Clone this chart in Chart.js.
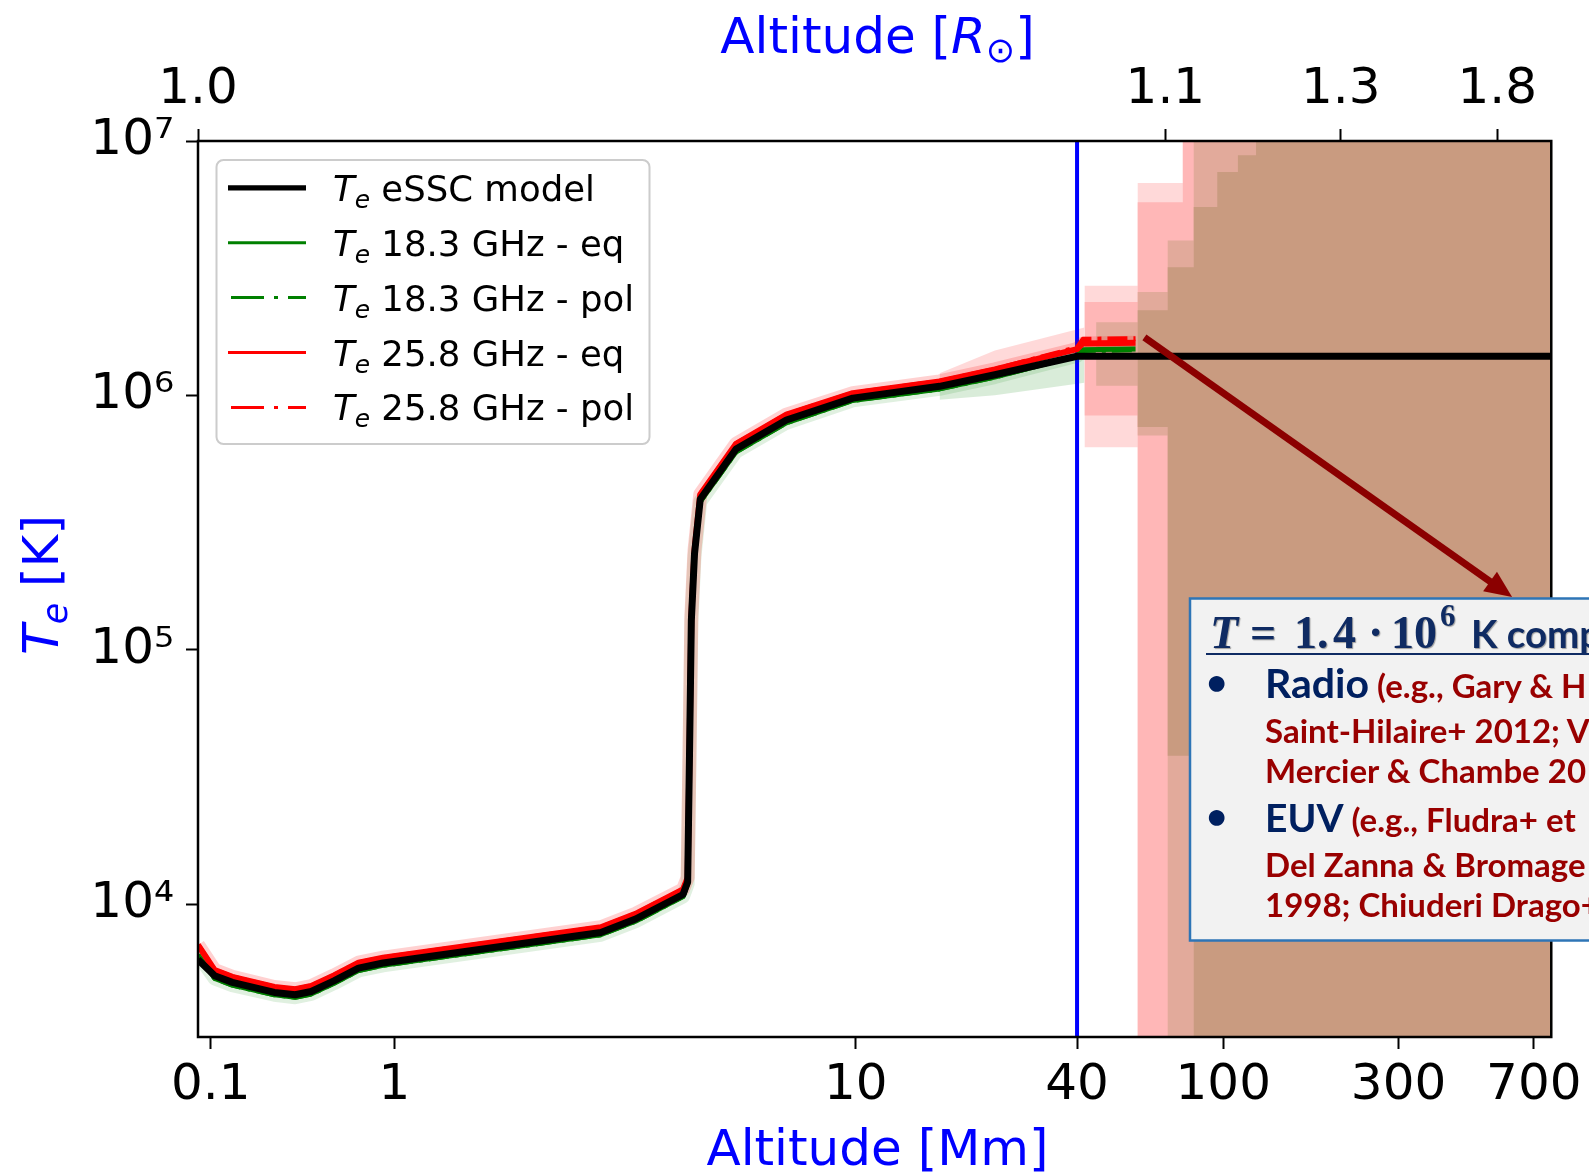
<!DOCTYPE html>
<html>
<head>
<meta charset="utf-8">
<script src="https://cdn.jsdelivr.net/npm/chart.js@4.4.1/dist/chart.umd.min.js"></script>
<style>
html,body{margin:0;padding:0;background:#fff;overflow:hidden;}
#wrap{position:relative;width:1589px;height:1175px;overflow:hidden;}
#c{position:absolute;left:0;top:0;}
#ov{position:absolute;left:0;top:0;pointer-events:none;}
</style>
</head>
<body>
<div id="wrap">
<canvas id="c" width="1589" height="1175"></canvas>
<svg id="ov" width="1589" height="1175" xmlns="http://www.w3.org/2000/svg">
  <!-- axis titles -->
  <text x="877.5" y="53" text-anchor="middle" font-family="DejaVu Sans" font-size="50" fill="#0000FF">Altitude [<tspan font-style="italic">R</tspan><tspan font-size="35" baseline-shift="-9">⊙</tspan>]</text>
  <text x="877.5" y="1165" text-anchor="middle" font-family="DejaVu Sans" font-size="50" fill="#0000FF">Altitude [Mm]</text>
  <text transform="translate(58,585) rotate(-90)" text-anchor="middle" font-family="DejaVu Sans" font-size="50" fill="#0000FF"><tspan font-style="italic">T</tspan><tspan font-style="italic" font-size="35" baseline-shift="-9">e</tspan> [K]</text>
  <!-- legend -->
  <g id="legend"></g>
  <!-- annotation box -->
  <g id="note">
    <rect x="1190" y="598.5" width="560" height="342" fill="#F2F2F2" stroke="#2E75B6" stroke-width="2.5"/>
    <text y="648" font-weight="bold" fill="#0F2B63" font-size="46" style="text-shadow:1px 1px 1px rgba(0,0,0,0.35)"><tspan x="1210" font-family="Liberation Serif" font-style="italic">T</tspan><tspan x="1250" font-family="Liberation Serif">=</tspan><tspan x="1294" font-family="Liberation Serif">1.</tspan><tspan x="1333" font-family="Liberation Serif">4</tspan><tspan x="1368" font-family="Liberation Serif">·</tspan><tspan x="1391" font-family="Liberation Serif">10</tspan><tspan x="1440" y="626" font-family="Liberation Serif" font-size="31">6</tspan><tspan x="1471" y="648" font-family="Lato" font-size="38.5">K comp</tspan></text>
    <line x1="1206" y1="654" x2="1600" y2="654" stroke="#0F2B63" stroke-width="2"/>
    <text x="1216.7" y="695" text-anchor="middle" font-family="Lato" font-size="36" font-weight="bold" fill="#002060">•</text>
    <text y="698" font-family="Lato" font-weight="bold"><tspan x="1265" font-size="41" fill="#002060">Radio</tspan><tspan font-size="33" fill="#990000"> (e.g., Gary &amp; H</tspan></text>
    <text x="1265" y="743" font-family="Lato" font-weight="bold" font-size="33" fill="#990000">Saint-Hilaire+ 2012; V</text>
    <text x="1265" y="783" font-family="Lato" font-weight="bold" font-size="33" fill="#990000">Mercier &amp; Chambe 20</text>
    <text x="1216.7" y="829" text-anchor="middle" font-family="Lato" font-size="36" font-weight="bold" fill="#002060">•</text>
    <text y="832" font-family="Lato" font-weight="bold"><tspan x="1265" font-size="39" fill="#002060">EUV</tspan><tspan font-size="33" fill="#990000"> (e.g., Fludra+ et</tspan></text>
    <text x="1265" y="877" font-family="Lato" font-weight="bold" font-size="33" fill="#990000">Del Zanna &amp; Bromage</text>
    <text x="1265" y="917" font-family="Lato" font-weight="bold" font-size="33" fill="#990000">1998; Chiuderi Drago+</text>
  </g>
</svg>
</div>
<script>
// ---------------- data (altitude in Mm, temperature in K) ----------------
const altModel = [0.0852, 0.105, 0.131, 0.222, 0.288, 0.352, 0.468, 0.637, 0.866, 2.80, 3.33, 4.22, 4.32, 4.36, 4.40, 4.47, 4.60, 5.50, 7.07, 9.85, 16.9, 23.9, 40.0, 800];
const teModel  = [6050, 5220, 4920, 4490, 4400, 4530, 4990, 5600, 5860, 7730, 8730, 10900, 12200, 38900, 130000, 238000, 390000, 615000, 800000, 975000, 1085000, 1205000, 1425000, 1425000];

const altRadio = [0.0852, 0.105, 0.131, 0.222, 0.288, 0.352, 0.468, 0.637, 0.866, 2.80, 3.33, 4.22, 4.32, 4.36, 4.40, 4.47, 4.60, 5.50, 7.07, 9.85, 16.9, 23.9, 40.0, 41.5, 57.7];
const te183eq  = [6300, 5100, 4800, 4400, 4300, 4430, 4880, 5480, 5740, 7570, 8560, 10700, 12000, 38000, 128000, 233000, 382000, 600000, 780000, 955000, 1060000, 1180000, 1430000, 1510000, 1520000];
const te183pol = [6300, 5100, 4800, 4400, 4300, 4430, 4880, 5480, 5740, 7570, 8560, 10700, 12000, 38000, 128000, 233000, 382000, 600000, 780000, 955000, 1060000, 1180000, 1430000, 1500000, 1510000];
const te258eq  = [6900, 5500, 5170, 4720, 4620, 4760, 5240, 5880, 6150, 8100, 9150, 11400, 12700, 40000, 135000, 246000, 408000, 645000, 840000, 1020000, 1135000, 1265000, 1520000, 1600000, 1610000];
const te258pol = [6900, 5500, 5170, 4720, 4620, 4760, 5240, 5880, 6150, 8100, 9150, 11400, 12700, 40000, 135000, 246000, 408000, 645000, 840000, 1020000, 1135000, 1265000, 1540000, 1660000, 1670000];

// uncertainty bands near 20-40 Mm
const altRedBand   = [16.9, 23.9, 41.9];
const redBandLo    = [1100000, 1220000, 1520000];
const redBandHi    = [1220000, 1500000, 1850000];
const altGreenBand = [16.9, 23.9, 41.9];
const greenBandLo  = [960000, 1000000, 1120000];
const greenBandHi  = [1090000, 1210000, 1440000];

// stepped uncertainty regions beyond 40 Mm (column edges, one value per column)
const altShade     = [41.9, 45.1, 58.5, 70.6, 77.6, 83.1, 96.3, 109.6, 122.8, 800];
const shadeLightLo = [625000, 625000, 2000, 2000, 2000, 2000, 2000, 2000, 2000];
const shadeLightHi = [2700000, 2700000, 6840000, 6840000, 2e7, 2e7, 2e7, 2e7, 2e7];
const shadePinkLo  = [834000, 834000, 2000, 2000, 2000, 2000, 2000, 2000, 2000];
const shadePinkHi  = [2330000, 2330000, 5750000, 5750000, 2e7, 2e7, 2e7, 2e7, 2e7];
const shadeDuskLo  = [1400000, 1090000, 695000, 2000, 2000, 2000, 2000, 2000, 2000];
const shadeDuskHi  = [1400000, 1940000, 2550000, 4060000, 4060000, 2e7, 2e7, 2e7, 2e7];
const shadeBrownLo = [1400000, 1400000, 750000, 38300, 38300, 2000, 2000, 2000, 2000];
const shadeBrownHi = [1400000, 1400000, 2160000, 3190000, 3190000, 5500000, 7550000, 8790000, 2e7];

// vertical marker at 40 Mm
const altMarker = [40, 40];
const teMarker  = [1000, 1e8];

// ticks
const xTickVals   = [0.1, 1, 10, 40, 100, 300, 700];
const xTickLabels = ['0.1', '1', '10', '40', '100', '300', '700'];
const rTickVals   = [1.0, 1.1, 1.3, 1.8];
const rTickLabels = ['1.0', '1.1', '1.3', '1.8'];
const yTickVals   = [1e4, 1e5, 1e6, 1e7];
const yTickLabels = ['10⁴', '10⁵', '10⁶', '10⁷'];

// arrow (data coordinates)
const arrowFrom = [61, 1690000];
const arrowTo   = [611, 161000];

const legendLabels = ['eSSC model', '18.3 GHz - eq', '18.3 GHz - pol', '25.8 GHz - eq', '25.8 GHz - pol'];

const X_MIN = 0.0852, X_MAX = 781, Y_MIN = 3000, Y_MAX = 1e7;
const R_SUN_MM = 695.7;

// ---------------- piecewise logarithmic altitude scale ----------------
const SLOPES = [0.5, 1.2555, 1.0];   // relative decade widths below 1 Mm, 1-10 Mm, above 10 Mm
class PiecewiseLogScale extends Chart.LogarithmicScale {
  _u(v) {
    const L = Math.log10(v);
    if (L < 0) return SLOPES[0] * L;
    if (L < 1) return SLOPES[1] * L;
    return SLOPES[1] + SLOPES[2] * (L - 1);
  }
  _uInv(u) {
    let L;
    if (u < 0) L = u / SLOPES[0];
    else if (u < SLOPES[1]) L = u / SLOPES[1];
    else L = 1 + (u - SLOPES[1]) / SLOPES[2];
    return Math.pow(10, L);
  }
  getPixelForValue(value) {
    if (value === null || value === undefined || isNaN(value) || value <= 0) return NaN;
    const a = this._u(this.min), b = this._u(this.max);
    return this.getPixelForDecimal((this._u(value) - a) / (b - a));
  }
  getValueForPixel(pixel) {
    const a = this._u(this.min), b = this._u(this.max);
    return this._uInv(a + this.getDecimalForPixel(pixel) * (b - a));
  }
}
PiecewiseLogScale.id = 'pwlog';
PiecewiseLogScale.defaults = Chart.LogarithmicScale.defaults;
Chart.register(PiecewiseLogScale);

// ---------------- helpers ----------------
const pts = (xs, ys) => xs.map((x, i) => ({x: x, y: ys[i]}));
const stepPts = (edges, vals) => edges.map((x, i) => ({x: x, y: vals[Math.min(i, vals.length - 1)]}));
const base = {pointRadius: 0, pointHoverRadius: 0, tension: 0, clip: 0, fill: false, borderJoinStyle: 'round'};

function band(data1, data2, color, order, stepped) {
  return [
    Object.assign({}, base, {data: data1, borderColor: 'transparent', borderWidth: 0, order: order, stepped: stepped}),
    Object.assign({}, base, {data: data2, borderColor: 'transparent', borderWidth: 0, order: order, stepped: stepped, fill: '-1', backgroundColor: color})
  ];
}

// stepped 'before': each column value holds from its own edge up to the next edge
const datasets = [].concat(
  band(stepPts(altShade, shadeLightLo), stepPts(altShade, shadeLightHi), '#FFD9D9', 100, 'before'),
  band(stepPts(altShade, shadePinkLo),  stepPts(altShade, shadePinkHi),  '#FFB7B7', 99, 'before'),
  band(stepPts(altShade, shadeDuskLo),  stepPts(altShade, shadeDuskHi),  '#E2AA9B', 98, 'before'),
  band(stepPts(altShade, shadeBrownLo), stepPts(altShade, shadeBrownHi), '#C99B80', 97, 'before'),
  band(pts(altGreenBand, greenBandLo), pts(altGreenBand, greenBandHi), 'rgba(0,128,0,0.15)', 95, false),
  band(pts(altRedBand, redBandLo), pts(altRedBand, redBandHi), 'rgba(255,0,0,0.15)', 94, false),
  [
    Object.assign({}, base, {label: 'marker', data: pts(altMarker, teMarker), borderColor: '#0000FF', borderWidth: 4, order: 90}),
    Object.assign({}, base, {label: 'halo g', data: pts(altRadio, te183eq), borderColor: 'rgba(0,128,0,0.12)', borderWidth: 14, order: 86}),
    Object.assign({}, base, {label: 'halo r', data: pts(altRadio, te258eq), borderColor: 'rgba(255,0,0,0.18)', borderWidth: 14, order: 85}),
    Object.assign({}, base, {label: legendLabels[2], data: pts(altRadio, te183pol), borderColor: '#008000', borderWidth: 5, borderDash: [20, 6, 4, 6], order: 80}),
    Object.assign({}, base, {label: legendLabels[1], data: pts(altRadio, te183eq), borderColor: '#008000', borderWidth: 5, order: 79}),
    Object.assign({}, base, {label: legendLabels[4], data: pts(altRadio, te258pol), borderColor: '#FF0000', borderWidth: 5, borderDash: [20, 6, 4, 6], order: 78}),
    Object.assign({}, base, {label: legendLabels[3], data: pts(altRadio, te258eq), borderColor: '#FF0000', borderWidth: 6, order: 77}),
    Object.assign({}, base, {label: legendLabels[0], data: pts(altModel, teModel), borderColor: '#000000', borderWidth: 7, order: 70})
  ]
);

// frame + arrow plugin
const framePlugin = {
  id: 'frameArrow',
  afterDatasetsDraw(chart) {
    const ctx = chart.ctx, a = chart.chartArea;
    ctx.save();
    ctx.strokeStyle = '#000'; ctx.lineWidth = 2.5;
    ctx.strokeRect(a.left, a.top, a.right - a.left, a.bottom - a.top);
    const xs = chart.scales.x, ys = chart.scales.y;
    const x0 = xs.getPixelForValue(arrowFrom[0]), y0 = ys.getPixelForValue(arrowFrom[1]);
    const x1 = xs.getPixelForValue(arrowTo[0]), y1 = ys.getPixelForValue(arrowTo[1]);
    const dx = x1 - x0, dy = y1 - y0, len = Math.hypot(dx, dy);
    const ux = dx / len, uy = dy / len, head = 27, hw = 12;
    const bx = x1 - ux * head, by = y1 - uy * head;
    ctx.strokeStyle = '#8B0000'; ctx.fillStyle = '#8B0000'; ctx.lineWidth = 7; ctx.lineCap = 'butt';
    ctx.beginPath(); ctx.moveTo(x0, y0); ctx.lineTo(bx + ux * 2, by + uy * 2); ctx.stroke();
    ctx.beginPath();
    ctx.moveTo(x1, y1);
    ctx.lineTo(bx - uy * hw, by + ux * hw);
    ctx.lineTo(bx + uy * hw, by - ux * hw);
    ctx.closePath(); ctx.fill();
    ctx.restore();
  }
};

const tickFont = {family: 'DejaVu Sans', size: 50};
const tickGrid = {display: true, drawOnChartArea: false, drawTicks: true, tickLength: 12, tickWidth: 2, tickColor: '#000'};

new Chart(document.getElementById('c'), {
  type: 'line',
  data: {datasets: datasets},
  plugins: [framePlugin],
  options: {
    responsive: false,
    devicePixelRatio: 1,
    animation: false,
    events: [],
    layout: {padding: {left: 0, right: 36, top: 0, bottom: 0}},
    plugins: {legend: {display: false}, tooltip: {enabled: false}},
    scales: {
      x: {
        type: 'pwlog', position: 'bottom', min: X_MIN, max: X_MAX, bounds: 'data',
        afterBuildTicks: s => { s.ticks = xTickVals.map(v => ({value: v})); },
        afterFit: s => { s.height = 138; },
        ticks: {color: '#000', font: tickFont, padding: 7, autoSkip: false, maxRotation: 0, minRotation: 0,
                callback: (v, i) => xTickLabels[i]},
        grid: tickGrid, border: {display: false}
      },
      x2: {
        type: 'pwlog', position: 'top', axis: 'x', min: X_MIN, max: X_MAX, bounds: 'data',
        afterBuildTicks: s => { s.ticks = rTickVals.map(r => ({value: Math.max((r - 1) * R_SUN_MM, X_MIN)})); },
        afterFit: s => { s.height = 141; },
        ticks: {color: '#000', font: tickFont, padding: 9, autoSkip: false, maxRotation: 0, minRotation: 0,
                callback: (v, i) => rTickLabels[i]},
        grid: tickGrid, border: {display: false}
      },
      y: {
        type: 'logarithmic', position: 'left', min: Y_MIN, max: Y_MAX, bounds: 'data',
        afterBuildTicks: s => { s.ticks = yTickVals.map(v => ({value: v})); },
        afterFit: s => { s.width = 198; },
        ticks: {color: '#000', font: tickFont, padding: 12, autoSkip: false,
                callback: (v, i) => yTickLabels[i]},
        grid: tickGrid, border: {display: false}
      }
    }
  }
});

// ---------------- legend (SVG overlay) ----------------
(function buildLegend() {
  const NS = 'http://www.w3.org/2000/svg';
  const g = document.getElementById('legend');
  const mkEl = (tag, attrs) => { const e = document.createElementNS(NS, tag); for (const k in attrs) e.setAttribute(k, attrs[k]); return e; };
  g.appendChild(mkEl('rect', {x: 216.5, y: 160, width: 433, height: 284, rx: 7, ry: 7, fill: '#FFFFFF', 'fill-opacity': 0.8, stroke: '#CCCCCC', 'stroke-width': 2}));
  const styles = [
    {c: '#000000', w: 5.3, dash: null},
    {c: '#008000', w: 3, dash: null},
    {c: '#008000', w: 3, dash: '33 10 4 10'},
    {c: '#FF0000', w: 3, dash: null},
    {c: '#FF0000', w: 3, dash: '33 10 4 10'}
  ];
  legendLabels.forEach((lab, i) => {
    const yl = 187.8 + 54.9 * i;
    const st = styles[i];
    const ln = mkEl('line', {x1: st.dash ? 231 : 228, y1: yl, x2: 306, y2: yl, stroke: st.c, 'stroke-width': st.w});
    if (st.dash) ln.setAttribute('stroke-dasharray', st.dash);
    g.appendChild(ln);
    const t = mkEl('text', {x: 333, y: yl + 13, 'font-family': 'DejaVu Sans', 'font-size': 35.5, fill: '#000'});
    const t1 = mkEl('tspan', {'font-style': 'italic'}); t1.textContent = 'T';
    const t2 = mkEl('tspan', {'font-style': 'italic', 'font-size': 25, 'baseline-shift': '-7'}); t2.textContent = 'e';
    const t3 = mkEl('tspan', {}); t3.textContent = '\u00A0' + lab;
    t.appendChild(t1); t.appendChild(t2); t.appendChild(t3);
    g.appendChild(t);
  });
})();
</script>
</body>
</html>
